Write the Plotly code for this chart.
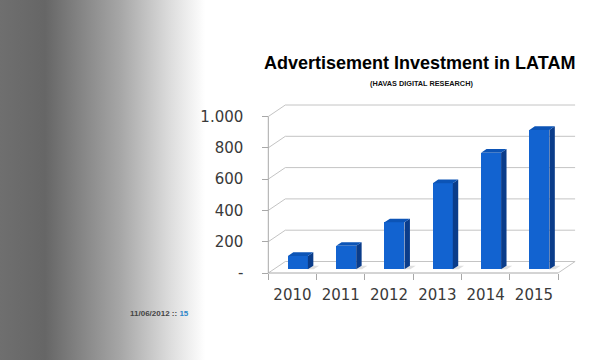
import base64
import plotly.graph_objects as go

# ---- data ----
years = ["2010", "2011", "2012", "2013", "2014", "2015"]
investment = [85, 150, 300, 550, 745, 890]
y_tickvals = [0, 200, 400, 600, 800, 1000]
y_ticktext = ["-", "200", "400", "600", "800", "1.000"]
title_text = "Advertisement Investment in LATAM"
subtitle_text = "(HAVAS DIGITAL RESEARCH)"
footer_date = "11/06/2012 ::"
footer_page = "15"

# ---- pseudo-3D geometry (in axis units) ----
W, H = 600, 360
X0_PX, CAT_PX = 268.3, 48.3          # front-left corner, category width
Y0_PX, PX_PER_UNIT = 273.0, 0.1565   # zero line (front), px per value unit
DX = 17.0 / CAT_PX                   # depth offset in x (category units)
DY = 11.5 / PX_PER_UNIT              # depth offset in y (value units)
D0, D1 = 0.32, 0.64                  # bar depth span (fraction of floor depth)
BW = 20.0 / CAT_PX                   # bar front width

xr = [(0 - X0_PX) / CAT_PX, (W - X0_PX) / CAT_PX]
yr = [(Y0_PX - H) / PX_PER_UNIT, Y0_PX / PX_PER_UNIT]
n = len(years)
grid_col = "#c4c4c4"
axis_col = "#a8a8a8"

fig = go.Figure()
shapes = []


def seg(x0, y0, x1, y1, color):
    shapes.append(dict(type="line", xref="x", yref="y", x0=x0, y0=y0, x1=x1, y1=y1,
                       layer="below", line=dict(color=color, width=1)))


# grid: side wall diagonals + back wall lines
for v in y_tickvals:
    seg(0, v, DX, v + DY, grid_col)
    seg(DX, v + DY, n + DX, v + DY, grid_col)
# floor right edge
seg(n, 0, n + DX, DY, grid_col)
# front axes
seg(0, 0, 0, y_tickvals[-1], axis_col)
seg(0, 0, n, 0, axis_col)

# floor shadows
sx, sy = [], []
for i, v in enumerate(investment):
    c = i + 0.5 + D0 * DX
    xr_ = c + BW / 2
    sx += [xr_, xr_ + 0.12, xr_ + 0.12 + (D1 - D0) * DX, xr_ + (D1 - D0) * DX, None]
    sy += [D0 * DY, D0 * DY, D1 * DY, D1 * DY, None]
fig.add_trace(go.Scatter(x=sx, y=sy, fill="toself", mode="none", fillcolor="rgba(150,150,150,0.3)",
                         hoverinfo="skip", showlegend=False))

# bar front faces
centers = [i + 0.5 + D0 * DX for i in range(n)]
fig.add_trace(go.Bar(x=centers, y=investment, base=[D0 * DY] * n, width=BW,
                     marker=dict(color="#1263d0", line=dict(width=0)),
                     hoverinfo="skip", showlegend=False))

# side and top faces
ddx, ddy = (D1 - D0) * DX, (D1 - D0) * DY
sdx, sdy, tdx, tdy = [], [], [], []
for c, v in zip(centers, investment):
    xl, xrt = c - BW / 2, c + BW / 2
    b0, t0 = D0 * DY, v + D0 * DY
    sdx += [xrt, xrt, xrt + ddx, xrt + ddx, xrt, None]
    sdy += [b0, t0, t0 + ddy, b0 + ddy, b0, None]
    tdx += [xl, xrt, xrt + ddx, xl + ddx, xl, None]
    tdy += [t0, t0, t0 + ddy, t0 + ddy, t0, None]
fig.add_trace(go.Scatter(x=sdx, y=sdy, fill="toself", mode="none", fillcolor="#0a3c8a",
                         hoverinfo="skip", showlegend=False))
fig.add_trace(go.Scatter(x=tdx, y=tdy, fill="toself", mode="none", fillcolor="#0c54b6",
                         hoverinfo="skip", showlegend=False))

# background gradient image
svg = ('<svg xmlns="http://www.w3.org/2000/svg" width="600" height="360" preserveAspectRatio="none">'
       '<defs><linearGradient id="g" x1="0" y1="0" x2="1" y2="0">'
       '<stop offset="0" stop-color="#6f6f6f"/>'
       '<stop offset="0.075" stop-color="#666666"/>'
       '<stop offset="0.2" stop-color="#a6a6a6"/>'
       '<stop offset="0.283" stop-color="#dcdcdc"/>'
       '<stop offset="0.342" stop-color="#ffffff"/>'
       '<stop offset="1" stop-color="#ffffff"/>'
       '</linearGradient></defs><rect width="600" height="360" fill="url(#g)"/></svg>')
uri = "data:image/svg+xml;base64," + base64.b64encode(svg.encode()).decode()

fig.update_layout(
    width=W, height=H, margin=dict(l=0, r=0, t=0, b=0),
    paper_bgcolor="white", plot_bgcolor="rgba(0,0,0,0)",
    showlegend=False, hovermode=False, bargap=0,
    shapes=shapes,
    images=[dict(source=uri, xref="paper", yref="paper", x=0, y=1, sizex=1, sizey=1,
                 sizing="stretch", layer="below")],
    xaxis=dict(range=xr, domain=[0, 1], anchor="free", position=(H - Y0_PX) / H,
               showgrid=False, zeroline=False, showline=False,
               tickmode="array", tickvals=[i + 0.5 for i in range(n)], ticktext=years,
               ticks="", ticklabelstandoff=11,
               tickfont=dict(family="DejaVu Sans", size=15, color="#3a3a3a"),
               minor=dict(tickmode="array", tickvals=list(range(n + 1)), ticks="outside",
                          ticklen=6, tickcolor=axis_col, tickwidth=1, showgrid=False)),
    yaxis=dict(range=yr, domain=[0, 1], anchor="free", position=X0_PX / W,
               showgrid=False, zeroline=False, showline=False,
               tickmode="array", tickvals=y_tickvals, ticktext=y_ticktext,
               ticks="outside", ticklen=6, tickcolor=axis_col, tickwidth=1,
               ticklabelstandoff=16,
               tickfont=dict(family="DejaVu Sans", size=15, color="#3a3a3a")),
    annotations=[
        dict(text="<b>" + title_text + "</b>", xref="paper", yref="paper",
             x=419 / W, y=1 - 63 / H, xanchor="center", yanchor="middle", showarrow=False,
             font=dict(family="Liberation Sans, Arial", size=18, color="#000000")),
        dict(text="<b>" + subtitle_text + "</b>", xref="paper", yref="paper",
             x=421 / W, y=1 - 83 / H, xanchor="center", yanchor="middle", showarrow=False,
             font=dict(family="Liberation Sans, Arial", size=7.3, color="#111111")),
        dict(text="<b>" + footer_date + " <span style='color:#2f86c8'>" + footer_page + "</span></b>",
             xref="paper", yref="paper", x=128 / W, y=1 - 313 / H, xanchor="left", yanchor="middle",
             showarrow=False, font=dict(family="Liberation Sans, Arial", size=8, color="#444444")),
    ],
)

fig.write_html("out.html", config={"displayModeBar": False, "staticPlot": True},
               post_script="document.body.style.margin='0';")
